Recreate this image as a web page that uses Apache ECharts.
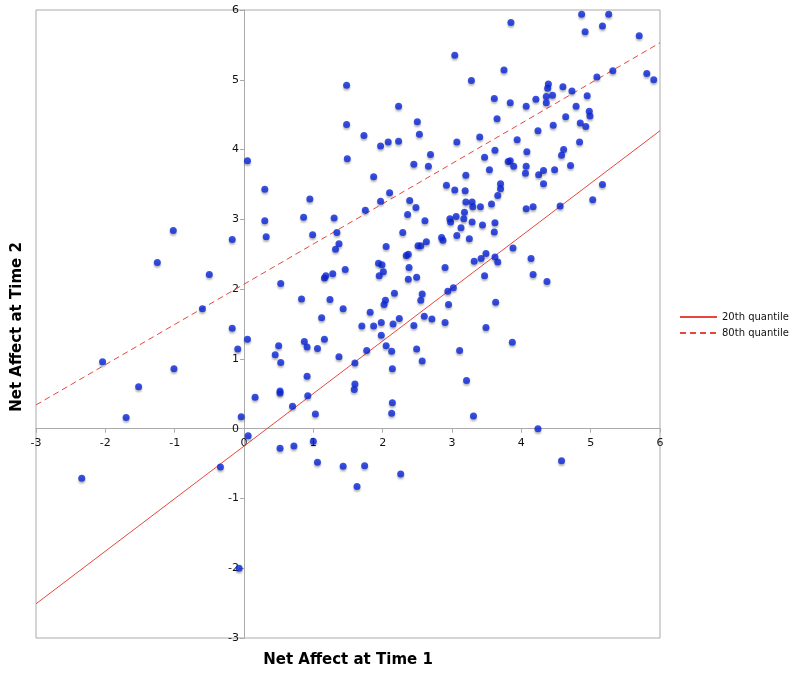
<!DOCTYPE html>
<html>
<head>
<meta charset="utf-8">
<script src="https://cdn.jsdelivr.net/npm/echarts@6/dist/echarts.min.js"></script>
<style>html,body{margin:0;padding:0;background:#fff;}#c{width:800px;height:676px;}</style>
</head>
<body>
<div id="c"></div>
<script>
var xTicks = [-3, -2, -1, 0, 1, 2, 3, 4, 5, 6];
var yTicks = [-3, -2, -1, 0, 1, 2, 3, 4, 5, 6];
var seriesNames = ['20th quantile', '80th quantile'];
var line20 = [[-3, -2.51], [6, 4.27]];
var line80 = [[-3, 0.34], [6, 5.53]];
var points = [
[-1.25,2.38],[-0.50,2.21],[-0.60,1.72],[-2.04,0.96],[-1.01,0.86],[-1.52,0.60],[-1.70,0.16],[-0.17,1.44],[-0.09,1.14],[0.05,1.28],
[-0.04,0.17],[0.06,-0.10],[-0.34,-0.55],[-2.34,-0.71],[-1.02,2.84],[-0.17,2.71],[0.05,3.84],[-0.07,-2.00],
[1.48,4.92],[1.48,4.36],[1.73,4.20],[1.97,4.05],[2.08,4.11],[2.23,4.12],[2.23,4.62],[1.49,3.87],[1.87,3.61],[0.30,3.43],
[0.95,3.29],[1.97,3.26],[2.10,3.38],[0.30,2.98],[0.86,3.03],[1.30,3.02],[1.75,3.13],[0.32,2.75],[0.99,2.78],[1.34,2.81],
[1.37,2.65],[1.32,2.57],[2.05,2.61],
[3.85,5.82],[3.04,5.35],[3.75,5.14],[3.28,4.99],[3.61,4.73],[3.84,4.67],[2.50,4.40],[3.65,4.44],[2.53,4.22],[3.07,4.11],
[3.40,4.18],[3.94,4.14],[3.62,3.99],[2.69,3.93],[2.45,3.79],[2.66,3.76],[3.47,3.89],[3.81,3.83],[3.84,3.84],[3.89,3.76],
[3.54,3.71],[3.20,3.63],[2.92,3.49],[3.04,3.42],[3.19,3.41],[3.70,3.51],[3.70,3.44],[3.66,3.34],[2.39,3.27],[2.48,3.17],
[3.20,3.25],[3.29,3.25],[3.30,3.18],[3.41,3.18],[3.57,3.22],[3.18,3.10],[2.36,3.07],[2.61,2.98],[2.97,3.01],[2.98,2.96],
[3.06,3.04],[3.17,3.01],[3.13,2.88],[3.29,2.96],[3.44,2.92],[3.62,2.95],
[4.87,5.94],[5.26,5.94],[4.92,5.69],[5.17,5.77],[5.70,5.63],[5.09,5.04],[5.32,5.13],[5.81,5.09],[5.91,5.00],[4.39,4.94],
[4.38,4.88],[4.60,4.90],[4.73,4.84],[4.21,4.72],[4.36,4.76],[4.45,4.78],[4.36,4.67],[4.95,4.77],[4.07,4.62],[4.79,4.62],
[4.98,4.55],[4.99,4.48],[4.64,4.47],[4.46,4.35],[4.85,4.38],[4.93,4.33],[4.24,4.27],[4.84,4.11],[4.08,3.97],[4.61,4.00],
[4.58,3.92],[4.07,3.76],[4.06,3.66],[4.25,3.64],[4.32,3.70],[4.48,3.71],[4.71,3.77],[4.32,3.51],[4.07,3.15],[4.17,3.18],
[4.56,3.19],[5.17,3.50],[5.03,3.28],
[2.29,2.81],[2.85,2.74],[2.87,2.70],[3.07,2.77],[3.25,2.72],[3.61,2.82],[2.51,2.62],[2.55,2.62],[2.63,2.68],[3.88,2.59],
[2.34,2.48],[2.37,2.50],[1.94,2.37],[1.99,2.35],[2.01,2.25],[1.95,2.19],[2.38,2.31],[2.37,2.14],[2.49,2.17],[2.90,2.31],
[3.32,2.40],[3.42,2.44],[3.49,2.51],[3.62,2.46],[3.66,2.39],[3.47,2.19],[2.17,1.94],[2.04,1.84],[2.02,1.78],[2.57,1.93],
[2.55,1.84],[2.94,1.97],[3.02,2.02],[2.95,1.78],[3.63,1.81],[1.82,1.67],[2.24,1.58],[1.98,1.52],[2.15,1.50],[1.87,1.47],
[2.60,1.61],[2.71,1.57],[2.45,1.48],[2.90,1.52],[3.49,1.45],[1.98,1.34],[2.05,1.19],[2.13,1.11],[2.49,1.14],[3.11,1.12],
[3.87,1.24],[2.14,0.86],[2.57,0.97],[3.21,0.69],[2.14,0.37],[2.13,0.22],[3.31,0.18],[2.26,-0.65],
[4.14,2.44],[4.17,2.21],[4.37,2.11],[4.24,0.00],[4.58,-0.46],
[0.53,2.08],[1.16,2.16],[1.18,2.19],[1.28,2.22],[1.46,2.28],[0.83,1.86],[1.24,1.85],[1.43,1.72],[1.12,1.59],[1.70,1.47],
[0.50,1.19],[0.87,1.25],[0.91,1.17],[1.06,1.15],[1.16,1.28],[0.45,1.06],[0.53,0.95],[1.37,1.03],[1.60,0.94],[1.77,1.12],
[0.91,0.75],[1.60,0.64],[1.59,0.56],[0.52,0.54],[0.52,0.51],[0.16,0.45],[0.92,0.47],[0.70,0.32],[1.03,0.21],[0.52,-0.28],
[0.72,-0.25],[1.00,-0.18],[1.06,-0.48],[1.43,-0.54],[1.74,-0.53],[1.63,-0.83]
];
var xTitle = 'Net Affect at Time 1';
var yTitle = 'Net Affect at Time 2';

var G_LEFT = 36, G_TOP = 10, G_W = 624, G_H = 628;
// shift axes from the grid edge to the zero crossing
var xAxisOffset = -G_H * (0 - (-3)) / 9;
var yAxisOffset = -G_W * (0 - (-3)) / 9;

var chart = echarts.init(document.getElementById('c'), null, {renderer: 'canvas'});
function axis(extra, margin) {
  return Object.assign({
    type: 'value', min: -3, max: 6, interval: 1,
    axisLine: {show: true, onZero: false, lineStyle: {color: '#aaaaaa', width: 1}},
    axisTick: {show: true, length: 4, lineStyle: {color: '#aaaaaa'}},
    splitLine: {show: false},
    axisLabel: {fontFamily: 'DejaVu Sans', fontSize: 11, color: '#111', margin: margin}
  }, extra);
}
chart.setOption({
  animation: false,
  backgroundColor: '#fff',
  grid: {left: G_LEFT, top: G_TOP, width: G_W, height: G_H, show: true, borderColor: '#aaaaaa', borderWidth: 1, containLabel: false},
  xAxis: axis({position: 'bottom', offset: xAxisOffset}, 9),
  yAxis: axis({position: 'left', offset: yAxisOffset}, 5),
  legend: {
    orient: 'vertical', left: 674, top: 307, itemWidth: 37, itemHeight: 10, itemGap: 6,
    data: seriesNames,
    itemStyle: {color: 'rgba(0,0,0,0)', borderWidth: 0, opacity: 0},
    textStyle: {fontFamily: 'DejaVu Sans', fontSize: 10, color: '#111'}
  },
  graphic: [
    {type: 'text', x: 348, y: 660, style: {text: xTitle, font: 'bold 15px "DejaVu Sans"', fill: '#000', textAlign: 'center', textVerticalAlign: 'middle'}},
    {type: 'text', x: 17, y: 327, rotation: Math.PI / 2, style: {text: yTitle, font: 'bold 15px "DejaVu Sans"', fill: '#000', textAlign: 'center', textVerticalAlign: 'middle'}}
  ],
  series: [
    {name: seriesNames[0], type: 'line', data: line20, symbol: 'none', lineStyle: {color: '#e8463c', width: 1}, itemStyle: {color: 'rgba(0,0,0,0)'}, z: 3},
    {name: seriesNames[1], type: 'line', data: line80, symbol: 'none', lineStyle: {color: '#e8463c', width: 1, type: [6, 4]}, itemStyle: {color: 'rgba(0,0,0,0)'}, z: 3},
    {name: 'points', type: 'scatter', data: points, symbolSize: 7,
     itemStyle: {color: '#0a25d8', shadowColor: 'rgba(0,0,0,0.35)', shadowBlur: 2, shadowOffsetY: 2}, z: 4}
  ]
});
</script>
</body>
</html>
